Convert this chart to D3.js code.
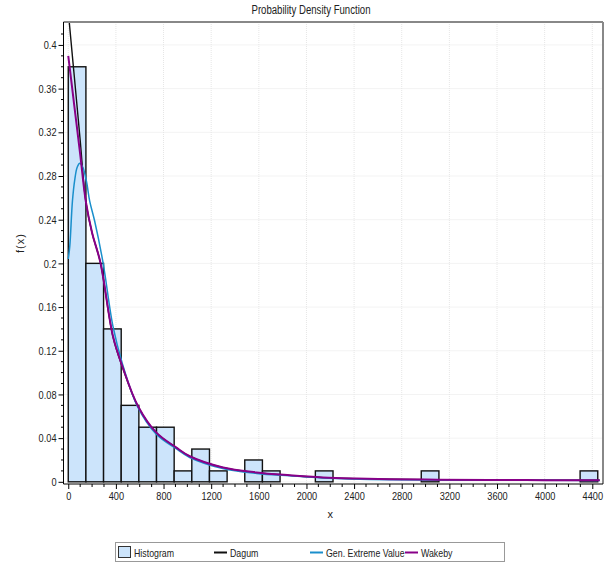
<!DOCTYPE html>
<html>
<head>
<meta charset="utf-8">
<script src="https://cdn.jsdelivr.net/npm/d3@7"></script>
<style>
  body { margin: 0; background: #fff; }
  svg text { font-family: "Liberation Sans", Arial, sans-serif; fill: #222; }
</style>
</head>
<body>
<svg id="chart" width="614" height="562"></svg>
<script>
// histogram bins (relative frequency per bin)
const binCount = 30
const dataMin = 0
const dataMax = 4446
const binHeights = [0.38, 0.2, 0.14, 0.07, 0.05, 0.05, 0.01, 0.03, 0.01, 0, 0.02, 0.01, 0, 0, 0.01,
  0, 0, 0, 0, 0, 0.01, 0, 0, 0, 0, 0, 0, 0, 0, 0.01]

// fitted curves
const dagumX = [0, 10, 50, 100, 147, 200, 270, 376, 455, 586, 740, 908, 1020, 1300, 1580, 1859, 2139, 2419, 2699, 3100, 3538, 4000, 4462]
const dagumY = [0.435, 0.419, 0.372, 0.313, 0.257, 0.228, 0.2007, 0.1325, 0.105, 0.0689, 0.0447, 0.0311, 0.0232, 0.0129, 0.0084, 0.0059, 0.0038, 0.0029, 0.0023, 0.0019, 0.0016, 0.0015, 0.0014]

const gevX = [0, 13, 35, 55, 75, 97, 122, 153, 180, 222, 292, 376, 455, 583, 735, 903, 1020, 1297, 1582, 1859, 2137, 2699, 3500, 4462]
const gevY = [0.204, 0.216, 0.257, 0.277, 0.288, 0.2916, 0.288, 0.275, 0.257, 0.2386, 0.2007, 0.142, 0.108, 0.0686, 0.0441, 0.0305, 0.0223, 0.0122, 0.0077, 0.0055, 0.0036, 0.002, 0.0015, 0.0012]

const wakebyX = [0, 50, 100, 147, 200, 270, 376, 455, 586, 740, 908, 1020, 1300, 1580, 1859, 2139, 2419, 2699, 3100, 3538, 4000, 4462]
const wakebyY = [0.39, 0.345, 0.30, 0.257, 0.228, 0.2007, 0.133, 0.1055, 0.0692, 0.045, 0.0313, 0.0234, 0.0131, 0.0086, 0.006, 0.004, 0.003, 0.0024, 0.002, 0.0017, 0.0015, 0.0014]

const xTicks = [0, 400, 800, 1200, 1600, 2000, 2400, 2800, 3200, 3600, 4000, 4400]
const yTicks = [0, 0.04, 0.08, 0.12, 0.16, 0.2, 0.24, 0.28, 0.32, 0.36, 0.4]

const series = [
  { name: 'Dagum', xs: dagumX, ys: dagumY, color: '#111', width: 1.4 },
  { name: 'Gen. Extreme Value', xs: gevX, ys: gevY, color: '#1a8fcc', width: 1.5 },
  { name: 'Wakeby', xs: wakebyX, ys: wakebyY, color: '#880088', width: 2 }
]

const svg = d3.select('#chart')
const plotLeft = 63.5, plotRight = 603, plotTop = 22, plotBottom = 484

const x = d3.scaleLinear().domain([-40, 4490]).range([plotLeft, plotRight])
const y = d3.scaleLinear().domain([-0.002, 0.421]).range([plotBottom, plotTop])

// title
svg.append('text')
  .attr('class', 'narrow')
  .attr('x', 311).attr('y', 14)
  .attr('text-anchor', 'middle')
  .style('font-size', '12px')
  .text('Probability Density Function')

// grid
const grid = svg.append('g').attr('stroke', '#e6e6e6').attr('stroke-dasharray', '1,1')
grid.selectAll('.gx').data(xTicks).enter().append('line')
  .attr('x1', d => x(d)).attr('x2', d => x(d)).attr('y1', plotTop).attr('y2', plotBottom)
grid.selectAll('.gy').data(yTicks).enter().append('line')
  .attr('x1', plotLeft).attr('x2', plotRight).attr('y1', d => y(d)).attr('y2', d => y(d))

svg.append('clipPath').attr('id', 'clip')
  .append('rect').attr('x', plotLeft).attr('y', plotTop).attr('width', plotRight - plotLeft).attr('height', plotBottom - plotTop)

// histogram
const binW = (dataMax - dataMin) / binCount
svg.append('g').selectAll('rect').data(binHeights).enter().append('rect')
  .attr('x', (d, i) => x(dataMin + i * binW))
  .attr('width', x(binW) - x(0))
  .attr('y', d => y(d))
  .attr('height', d => y(0) - y(d))
  .attr('fill', '#cce4fb')
  .attr('stroke', '#111')
  .attr('stroke-width', 1.4)

// curves
const line = d3.line().curve(d3.curveCatmullRom.alpha(0.5))
svg.append('g').attr('clip-path', 'url(#clip)').selectAll('path').data(series).enter().append('path')
  .attr('d', s => line(s.xs.map((v, i) => [x(v), y(s.ys[i])])))
  .attr('fill', 'none')
  .attr('stroke', s => s.color)
  .attr('stroke-width', s => s.width)

// border
svg.append('line').attr('x1', plotLeft).attr('x2', plotRight).attr('y1', plotTop).attr('y2', plotTop)
  .attr('stroke', '#888').attr('stroke-width', 2)
svg.append('line').attr('x1', plotRight).attr('x2', plotRight).attr('y1', plotTop).attr('y2', plotBottom)
  .attr('stroke', '#888').attr('stroke-width', 2)

// axes
const xAxis = d3.axisBottom(x).tickValues(xTicks).tickSize(5).tickPadding(3).tickFormat(d3.format('d'))
const gx = svg.append('g').attr('transform', `translate(0,${plotBottom})`).call(xAxis)
gx.select('.domain').attr('d', `M${plotLeft},0H${plotRight}`).attr('stroke', '#000')
gx.selectAll('text').attr('class', 'narrow').style('font-size', '11.5px')

const xMinor = d3.range(0, 4500, 100).filter(v => v % 400 !== 0)
gx.selectAll('.minor').data(xMinor).enter().append('line')
  .attr('x1', d => x(d)).attr('x2', d => x(d)).attr('y1', 0).attr('y2', 3)
  .attr('stroke', '#000')

const yAxis = d3.axisLeft(y).tickValues(yTicks).tickSize(5).tickPadding(2).tickFormat(d => +d.toFixed(2))
const gy = svg.append('g').attr('transform', `translate(${plotLeft},0)`).call(yAxis)
gy.select('.domain').attr('d', `M0,${plotTop}V${plotBottom}`).attr('stroke', '#000')
gy.selectAll('text').attr('class', 'narrow').style('font-size', '11.5px')

const yMinor = d3.range(1, 42).map(v => v / 100).filter(v => Math.round(v * 100) % 4 !== 0)
gy.selectAll('.minor').data(yMinor).enter().append('line')
  .attr('x1', -2.5).attr('x2', 0).attr('y1', d => y(d)).attr('y2', d => y(d))
  .attr('stroke', '#000')

// axis labels
svg.append('text')
  .attr('transform', 'translate(24,243) rotate(-90)')
  .attr('text-anchor', 'middle')
  .style('font-size', '11px')
  .style('letter-spacing', '1px')
  .text('f(x)')
svg.append('text')
  .attr('x', x(2200)).attr('y', 518)
  .attr('text-anchor', 'middle')
  .style('font-size', '11px')
  .text('x')

// legend
const legend = svg.append('g')
legend.append('rect')
  .attr('x', 115.5).attr('y', 542.5).attr('width', 389).attr('height', 19)
  .attr('fill', '#fff').attr('stroke', '#999')
legend.append('rect')
  .attr('x', 118.5).attr('y', 546.5).attr('width', 12).attr('height', 11)
  .attr('fill', '#cce4fb').attr('stroke', '#333')
legend.append('text').attr('class', 'narrow').attr('x', 134).attr('y', 556.5).style('font-size', '11px').text('Histogram')

const legendX = [214, 310, 405]
series.forEach((s, i) => {
  legend.append('line')
    .attr('x1', legendX[i]).attr('x2', legendX[i] + 13).attr('y1', 552.5).attr('y2', 552.5)
    .attr('stroke', s.color).attr('stroke-width', 2)
  legend.append('text').attr('class', 'narrow').attr('x', legendX[i] + 16).attr('y', 556.5)
    .style('font-size', '11px').text(s.name)
})

// no narrow font installed: squeeze the glyphs to look like the original
svg.selectAll('text.narrow').each(function() {
  const w = this.getComputedTextLength()
  d3.select(this).attr('textLength', w * 0.8).attr('lengthAdjust', 'spacingAndGlyphs')
})
</script>
</body>
</html>
